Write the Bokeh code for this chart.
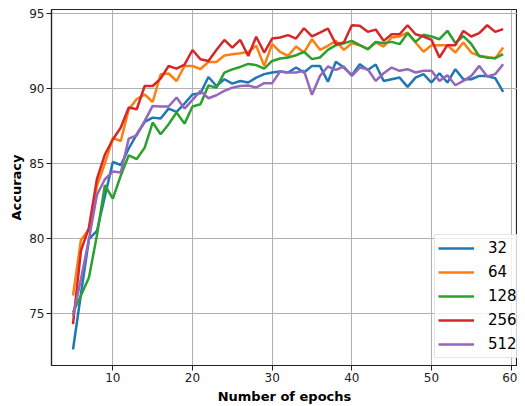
from bokeh.plotting import figure
from bokeh.models import Range1d, FixedTicker, Legend, LegendItem
from bokeh.embed import file_html
from bokeh.resources import INLINE

epochs = list(range(5, 60))

acc_32 = [72.6, 76.3, 79.95, 80.5, 82.8, 85.1, 84.9, 86.0, 86.95, 87.77,
          88.06, 88.0, 88.66, 88.44, 89.0, 89.6, 89.68, 90.77, 90.17, 90.62,
          90.33, 90.5, 90.4, 90.73, 90.96, 91.07, 91.13, 91.07, 91.4, 91.07,
          91.51, 91.51, 90.45, 91.78, 91.4, 90.89, 91.62, 91.24, 91.6, 90.5,
          90.62, 90.73, 90.11, 90.73, 90.96, 90.4, 91.02, 90.4, 91.29, 90.62,
          90.62, 90.84, 90.84, 90.69, 89.78]
acc_64 = [76.2, 79.9, 80.6, 83.5, 85.0, 86.7, 86.5, 88.6, 89.3, 89.6,
          89.1, 90.95, 91.0, 90.5, 91.5, 91.5, 91.3, 91.77, 91.77, 92.2,
          92.28, 92.35, 92.44, 92.86, 91.51, 92.96, 92.45, 92.18, 92.8, 92.4,
          93.29, 92.58, 92.85, 93.18, 92.58, 93.02, 92.89, 92.62, 93.07, 92.8,
          93.4, 93.47, 93.73, 93.07, 92.45, 92.89, 92.89, 92.89, 92.4, 93.07,
          92.4, 92.18, 92.11, 92.0, 92.73]
acc_128 = [75.06, 76.2, 77.4, 80.2, 83.55, 82.66, 84.2, 85.55, 85.3, 86.06,
           87.73, 86.95, 87.62, 88.4, 87.66, 88.8, 88.95, 90.2, 90.06, 91.06,
           91.28, 91.44, 91.64, 91.56, 91.33, 91.84, 92.0, 92.07, 92.22, 92.45,
           91.96, 92.07, 92.58, 92.89, 93.02, 93.18, 92.89, 92.62, 93.1, 93.02,
           93.11, 92.96, 93.69, 93.11, 93.58, 93.47, 93.29, 93.85, 93.04, 93.5,
           92.97, 92.15, 92.06, 92.03, 92.3]
acc_256 = [74.29, 79.2, 80.73, 83.95, 85.6, 86.6, 87.4, 88.73, 88.62, 90.17,
           90.17, 90.66, 91.5, 91.33, 91.6, 92.57, 91.95, 91.84, 92.57, 93.24,
           92.73, 93.24, 92.17, 93.45, 92.4, 93.33, 93.4, 93.56, 93.33, 94.02,
           93.47, 93.73, 94.0, 92.96, 93.07, 94.22, 94.18, 93.78, 93.93, 93.18,
           93.62, 93.62, 94.22, 93.62, 93.47, 93.25, 92.07, 92.89, 92.89, 93.84,
           93.47, 93.69, 94.22, 93.78, 93.96]
acc_512 = [74.84, 77.3, 79.95, 82.9, 83.95, 84.46, 84.4, 86.66, 86.88, 87.84,
           88.84, 88.8, 88.8, 89.4, 88.66, 89.24, 89.84, 89.35, 89.55, 89.84,
           90.06, 90.17, 90.2, 90.07, 90.36, 90.36, 91.13, 91.07, 91.07, 91.18,
           89.58, 90.84, 91.47, 91.24, 91.47, 90.84, 91.4, 91.29, 90.51, 91.02,
           91.4, 91.18, 91.29, 91.07, 91.18, 91.18, 90.51, 90.89, 90.22, 90.51,
           90.84, 91.51, 90.8, 90.96, 91.62]

labels = ["32", "64", "128", "256", "512"]
series = [acc_32, acc_64, acc_128, acc_256, acc_512]
colors = ["#1f77b4", "#ff7f0e", "#2ca02c", "#d62728", "#9467bd"]
x_ticks = [10, 20, 30, 40, 50, 60]
y_ticks = [75, 80, 85, 90, 95]

p = figure(width=517, height=406, output_backend="svg", toolbar_location=None,
           x_range=Range1d(2.3, 60.8), y_range=Range1d(71.53, 95.27),
           min_border_left=51, min_border_right=0, min_border_top=9,
           min_border_bottom=36)
p.background_fill_color = "white"
p.border_fill_color = "white"
p.outline_line_color = "#222222"
p.outline_line_width = 1.2

for ax in (p.xaxis[0], p.yaxis[0]):
    ax.axis_line_color = "#222222"
    ax.axis_line_width = 1.2
    ax.major_tick_line_color = "#222222"
    ax.major_tick_in = 0
    ax.major_tick_out = 5
    ax.minor_tick_line_color = None
    ax.major_label_text_font = "DejaVu Sans"
    ax.major_label_text_font_size = "12px"
    ax.major_label_text_color = "#222222"
    ax.axis_label_text_font = "DejaVu Sans"
    ax.axis_label_text_font_size = "13px"
    ax.axis_label_text_font_style = "bold"
    ax.axis_label_text_color = "#000000"

p.xaxis.ticker = FixedTicker(ticks=x_ticks)
p.yaxis.ticker = FixedTicker(ticks=y_ticks)
p.xaxis.axis_label = "Number of epochs"
p.yaxis.axis_label = "Accuracy"
p.xaxis.major_label_standoff = 2
p.xaxis.axis_label_standoff = 4
p.yaxis.major_label_standoff = 2
p.yaxis.axis_label_standoff = 2

p.xgrid.grid_line_color = "#b0b0b0"
p.ygrid.grid_line_color = "#b0b0b0"
p.xgrid.grid_line_width = 1
p.ygrid.grid_line_width = 1

items = []
for lab, ys, c in zip(labels, series, colors):
    r = p.line(epochs, ys, line_color=c, line_width=2.5)
    items.append(LegendItem(label=lab, renderers=[r]))

legend = Legend(items=items, location=(383, 7))
legend.label_text_font = "DejaVu Sans"
legend.label_text_font_size = "15px"
legend.label_text_color = "#000000"
legend.glyph_width = 36
legend.glyph_height = 20
legend.label_height = 20
legend.label_standoff = 14
legend.spacing = 4
legend.padding = 3
legend.margin = 0
legend.border_line_color = "#cccccc"
legend.border_line_width = 1
legend.background_fill_alpha = 0.8
p.add_layout(legend, "center")

open("out.html", "w").write(file_html(p, INLINE))
